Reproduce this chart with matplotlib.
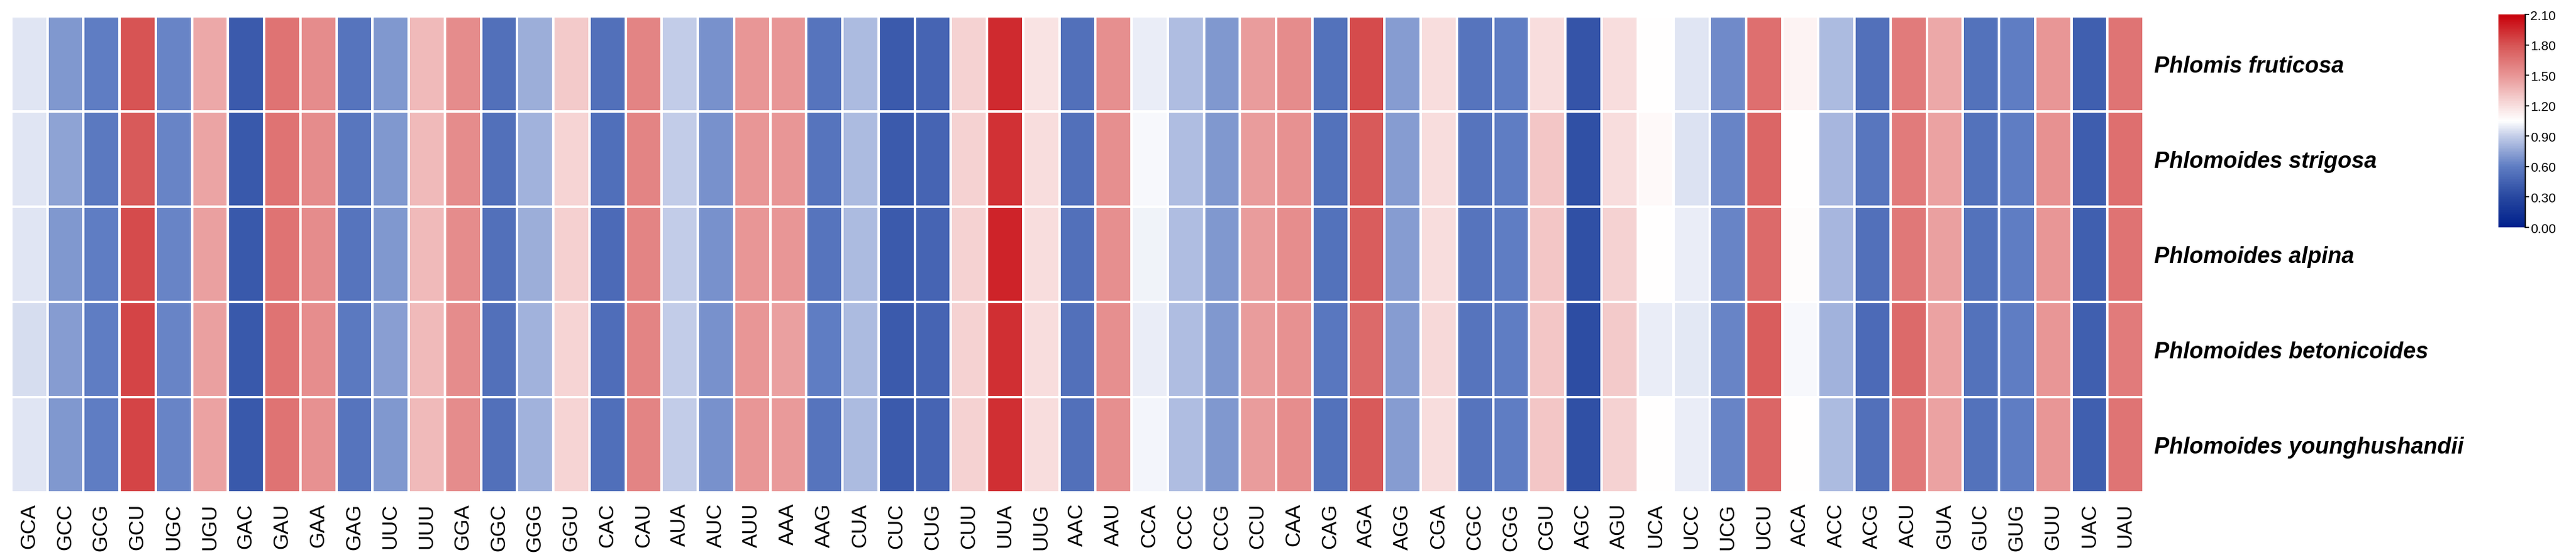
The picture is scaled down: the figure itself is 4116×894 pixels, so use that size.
import numpy as np
import matplotlib
matplotlib.use('Agg')
import matplotlib.pyplot as plt
from matplotlib.colors import LinearSegmentedColormap, Normalize

codons = ['GCA', 'GCC', 'GCG', 'GCU', 'UGC', 'UGU', 'GAC', 'GAU', 'GAA', 'GAG',
          'UUC', 'UUU', 'GGA', 'GGC', 'GGG', 'GGU', 'CAC', 'CAU', 'AUA', 'AUC',
          'AUU', 'AAA', 'AAG', 'CUA', 'CUC', 'CUG', 'CUU', 'UUA', 'UUG', 'AAC',
          'AAU', 'CCA', 'CCC', 'CCG', 'CCU', 'CAA', 'CAG', 'AGA', 'AGG', 'CGA',
          'CGC', 'CGG', 'CGU', 'AGC', 'AGU', 'UCA', 'UCC', 'UCG', 'UCU', 'ACA',
          'ACC', 'ACG', 'ACU', 'GUA', 'GUC', 'GUG', 'GUU', 'UAC', 'UAU']

species = ['Phlomis fruticosa', 'Phlomoides strigosa', 'Phlomoides alpina',
           'Phlomoides betonicoides', 'Phlomoides younghushandii']

# RSCU values, one list per species
phlomis_fruticosa = [
    0.97, 0.70, 0.60, 1.80, 0.63, 1.42, 0.41, 1.66, 1.55, 0.55,
    0.70, 1.35, 1.55, 0.53, 0.78, 1.28, 0.53, 1.58, 0.90, 0.68,
    1.50, 1.50, 0.55, 0.83, 0.41, 0.46, 1.25, 1.95, 1.18, 0.53,
    1.53, 1.00, 0.84, 0.70, 1.47, 1.55, 0.54, 1.83, 0.72, 1.20,
    0.55, 0.60, 1.20, 0.37, 1.20, 1.05, 0.97, 0.65, 1.68, 1.10,
    0.83, 0.53, 1.62, 1.42, 0.54, 0.60, 1.50, 0.43, 1.65]
phlomoides_strigosa = [
    0.97, 0.74, 0.58, 1.78, 0.63, 1.44, 0.40, 1.66, 1.55, 0.56,
    0.70, 1.35, 1.55, 0.53, 0.80, 1.24, 0.52, 1.58, 0.90, 0.68,
    1.50, 1.50, 0.55, 0.83, 0.41, 0.46, 1.25, 1.92, 1.20, 0.53,
    1.53, 1.03, 0.84, 0.70, 1.47, 1.52, 0.54, 1.78, 0.72, 1.20,
    0.55, 0.60, 1.30, 0.35, 1.20, 1.08, 0.96, 0.63, 1.72, 1.05,
    0.82, 0.56, 1.62, 1.45, 0.54, 0.60, 1.52, 0.42, 1.68]
phlomoides_alpina = [
    0.97, 0.70, 0.60, 1.83, 0.63, 1.46, 0.40, 1.66, 1.55, 0.55,
    0.70, 1.35, 1.55, 0.53, 0.78, 1.26, 0.50, 1.58, 0.90, 0.68,
    1.50, 1.50, 0.55, 0.83, 0.41, 0.46, 1.25, 1.97, 1.20, 0.53,
    1.53, 1.01, 0.84, 0.70, 1.47, 1.54, 0.54, 1.76, 0.72, 1.20,
    0.55, 0.60, 1.30, 0.35, 1.25, 1.05, 1.00, 0.63, 1.70, 1.06,
    0.82, 0.53, 1.64, 1.46, 0.54, 0.60, 1.50, 0.43, 1.66]
phlomoides_betonicoides = [
    0.95, 0.72, 0.60, 1.86, 0.63, 1.46, 0.40, 1.66, 1.54, 0.58,
    0.73, 1.35, 1.55, 0.53, 0.80, 1.24, 0.51, 1.58, 0.90, 0.68,
    1.50, 1.46, 0.60, 0.83, 0.41, 0.46, 1.25, 1.93, 1.20, 0.53,
    1.53, 1.00, 0.84, 0.70, 1.47, 1.52, 0.57, 1.70, 0.72, 1.22,
    0.55, 0.60, 1.30, 0.33, 1.28, 1.00, 0.98, 0.63, 1.76, 1.03,
    0.80, 0.50, 1.70, 1.45, 0.54, 0.60, 1.50, 0.43, 1.62]
phlomoides_younghushandii = [
    0.97, 0.70, 0.60, 1.86, 0.63, 1.45, 0.40, 1.66, 1.52, 0.55,
    0.70, 1.35, 1.55, 0.53, 0.80, 1.24, 0.52, 1.58, 0.90, 0.68,
    1.50, 1.48, 0.55, 0.83, 0.41, 0.46, 1.25, 1.93, 1.20, 0.53,
    1.53, 1.02, 0.84, 0.70, 1.47, 1.54, 0.54, 1.78, 0.72, 1.20,
    0.55, 0.60, 1.30, 0.35, 1.25, 1.05, 1.00, 0.63, 1.72, 1.05,
    0.83, 0.53, 1.63, 1.45, 0.54, 0.60, 1.50, 0.43, 1.65]

rscu = np.array([phlomis_fruticosa, phlomoides_strigosa, phlomoides_alpina,
                 phlomoides_betonicoides, phlomoides_younghushandii])

vmin, vmax = 0.0, 2.1
stops = [
    (0.00, (0, 32, 140)),
    (0.30, (40, 72, 160)),
    (0.60, (95, 125, 195)),
    (0.90, (195, 205, 232)),
    (1.05, (255, 255, 255)),
    (1.20, (248, 222, 222)),
    (1.50, (232, 150, 150)),
    (1.80, (215, 85, 85)),
    (2.10, (200, 0, 10)),
]
cmap = LinearSegmentedColormap.from_list(
    'rscu', [(v / vmax, tuple(c / 255 for c in rgb)) for v, rgb in stops])
norm = Normalize(vmin=vmin, vmax=vmax)

plt.rcParams['font.family'] = ['Liberation Sans', 'DejaVu Sans']

W, H = 4116, 895
fig = plt.figure(figsize=(W / 100, H / 100), dpi=100)
ax = fig.add_axes([18 / W, 1 - 787 / H, (3425 - 18) / W, (787 - 27) / H])

ax.pcolormesh(rscu, cmap=cmap, norm=norm, edgecolors='white', linewidth=1.5)
ax.set_xlim(0, len(codons))
ax.set_ylim(len(species), 0)

ax.set_xticks(np.arange(len(codons)) + 0.5)
ax.set_xticklabels(codons, rotation=90, fontsize=24)
ax.tick_params(axis='x', length=0, pad=12)
ax.yaxis.tick_right()
ax.set_yticks(np.arange(len(species)) + 0.5)
ax.set_yticklabels(species, fontsize=26, fontweight='bold', fontstyle='italic')
ax.tick_params(axis='y', length=0, pad=12)
for s in ax.spines.values():
    s.set_visible(False)

cax = fig.add_axes([3992 / W, 1 - 364 / H, 43 / W, 340 / H])
cb = fig.colorbar(plt.cm.ScalarMappable(norm=norm, cmap=cmap), cax=cax)
cb.outline.set_visible(False)
cb.set_ticks(np.arange(0, 2.11, 0.3))
cb.ax.set_yticklabels(['%.2f' % t for t in np.arange(0, 2.11, 0.3)])
cb.ax.tick_params(labelsize=15, length=4, width=1.2, pad=2)
cax.spines['right'].set_visible(True)
cax.spines['right'].set_linewidth(1.5)

fig.savefig('out.png', dpi=100)
